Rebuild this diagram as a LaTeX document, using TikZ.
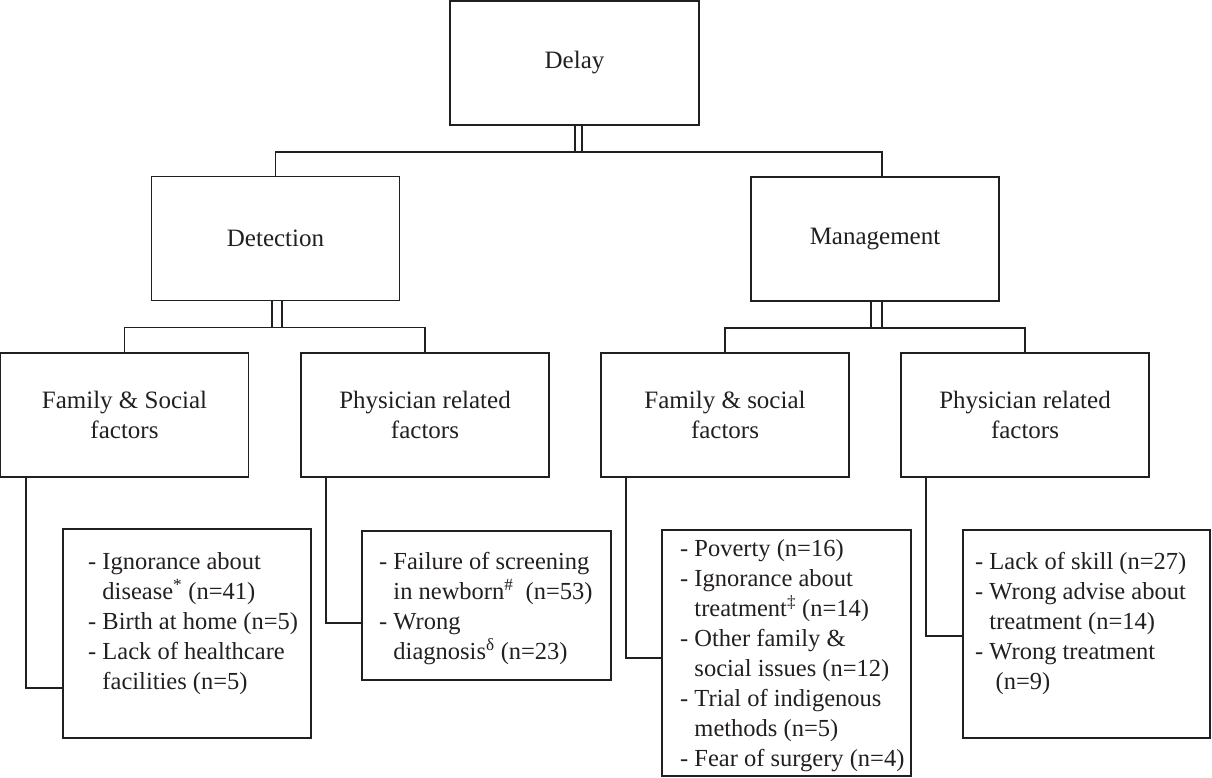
\documentclass[tikz,border=0pt]{standalone}
\usepackage{fontspec}
\setmainfont{Liberation Serif}
\definecolor{ink}{HTML}{231F20}
\begin{document}
\begin{tikzpicture}[x=1pt,y=-1pt,
  box/.style={draw=ink,line width=1.3pt,rectangle,inner sep=0pt,text=ink,align=center,
    font={\fontsize{25}{30}\selectfont}},
  lvl/.style={box,minimum width=248pt,minimum height=124pt},
  listtxt/.style={anchor=north west,inner sep=0pt,align=left,text=ink,
    font={\fontsize{24.5}{30}\selectfont}},
  conn/.style={draw=ink,line width=1.5pt}]
\useasboundingbox (0,0) rectangle (1212,778);
\newcommand{\ind}{\hphantom{- }}
% boxes
\node[lvl,minimum width=249pt,line width=1.6pt] (delay) at (574.5,63) {Delay};
\node[lvl] (det) at (275.5,238.5) {Detection};
\node[lvl] (mgmt) at (875,239) {Management};
\node[lvl] (fs1) at (124.5,415) {Family \& Social\\factors};
\node[lvl] (ph1) at (425,415) {Physician related\\factors};
\node[lvl] (fs2) at (725,415) {Family \& social\\factors};
\node[lvl] (ph2) at (1025,415) {Physician related\\factors};
\node[box,minimum width=248pt,minimum height=209pt] (l1) at (187,633.5) {};
\node[box,minimum width=249pt,minimum height=149pt] (l2) at (486.5,605.5) {};
\node[box,minimum width=249pt,minimum height=246pt] (l3) at (786.5,653) {};
\node[box,minimum width=247pt,minimum height=208pt] (l4) at (1086.5,634) {};
% list texts
\node[listtxt] (t1) at (88,552) {- Ignorance about\\\ind disease\textsuperscript{*} (n=41)\\- Birth at home (n=5)\\- Lack of healthcare\\\ind facilities (n=5)};
\node[listtxt] (t2) at (379,552) {- Failure of screening\\\ind in newborn\textsuperscript{\#}\ \ (n=53)\\- Wrong\\\ind diagnosis\textsuperscript{δ} (n=23)};
\node[listtxt] (t3) at (680,539) {- Poverty (n=16)\\- Ignorance about\\\ind treatment\textsuperscript{‡} (n=14)\\- Other family \&\\\ind social issues (n=12)\\- Trial of indigenous\\\ind methods (n=5)\\- Fear of surgery (n=4)};
\node[listtxt] (t4) at (975,552) {- Lack of skill (n=27)\\- Wrong advise about\\\ind treatment (n=14)\\- Wrong treatment\\\ind\ (n=9)};
% coordinates
\coordinate (j1) at (275.5,152);
\coordinate (j2) at (882,152);
\coordinate (k1) at (124.5,327.5);
\coordinate (k2) at (425,327.5);
\coordinate (m1) at (725,328);
\coordinate (m2) at (1025,328);
% top level
\draw[conn] ([xshift=0.5pt]delay.south) -- ([xshift=0.5pt]delay.south |- j1);
\draw[conn] ([xshift=7.5pt]delay.south) -- ([xshift=7.5pt]delay.south |- j1);
\draw[conn] (det.north) -- (j1) -- (j2) -- (j2 |- mgmt.north);
% detection level
\draw[conn] ([xshift=-3.5pt]det.south) -- ([xshift=-3.5pt]det.south |- k1);
\draw[conn] ([xshift=6.5pt]det.south) -- ([xshift=6.5pt]det.south |- k1);
\draw[conn] (fs1.north) -- (k1) -- (k2) -- (ph1.north);
% management level
\draw[conn] ([xshift=-4pt]mgmt.south) -- ([xshift=-4pt]mgmt.south |- m1);
\draw[conn] ([xshift=7pt]mgmt.south) -- ([xshift=7pt]mgmt.south |- m1);
\draw[conn] (fs2.north) -- (m1) -- (m2) -- (ph2.north);
% lower connectors
\coordinate (c1) at (26,688);
\coordinate (c2) at (326,623);
\coordinate (c3) at (626,658);
\coordinate (c4) at (926,636);
\draw[conn] (c1 |- fs1.south) -- (c1) -- (c1 -| l1.west);
\draw[conn] (c2 |- ph1.south) -- (c2) -- (c2 -| l2.west);
\draw[conn] (c3 |- fs2.south) -- (c3) -- (c3 -| l3.west);
\draw[conn] (c4 |- ph2.south) -- (c4) -- (c4 -| l4.west);
\end{tikzpicture}
\end{document}
